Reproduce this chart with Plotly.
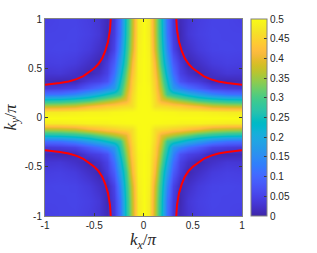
import numpy as np
import plotly.graph_objects as go

# grid coordinates (units of pi) for one quadrant
k_grid = [0, 0.06, 0.12, 0.18, 0.24, 0.30, 0.37, 0.45, 0.55, 0.70, 0.85, 1.0]

# estimated values f(a, b) for a >= b (lower triangle), a = k_grid[i]
f_lower = [
    [0.50],
    [0.50, 0.499],
    [0.50, 0.498, 0.465],
    [0.50, 0.497, 0.46, 0.40],
    [0.50, 0.495, 0.455, 0.38, 0.29],
    [0.50, 0.495, 0.445, 0.36, 0.265, 0.17],
    [0.50, 0.49, 0.44, 0.34, 0.24, 0.14, 0.07],
    [0.50, 0.49, 0.425, 0.32, 0.21, 0.11, 0.048, 0.023],
    [0.50, 0.49, 0.41, 0.29, 0.18, 0.085, 0.037, 0.006, 0.02],
    [0.50, 0.485, 0.38, 0.27, 0.14, 0.05, 0.01, 0.022, 0.038, 0.05],
    [0.50, 0.48, 0.37, 0.255, 0.115, 0.04, 0.008, 0.033, 0.045, 0.052, 0.05],
    [0.50, 0.48, 0.365, 0.25, 0.11, 0.035, 0.012, 0.03, 0.042, 0.05, 0.05, 0.045],
]

# red contour, upper-right quadrant
red_kx = [0.333, 0.34, 0.36, 0.39, 0.42, 0.46, 0.50, 0.55, 0.61, 0.68, 0.76, 0.85, 0.93, 1.0]
red_ky = [1.0, 0.89, 0.77, 0.67, 0.60, 0.54, 0.50, 0.46, 0.42, 0.39, 0.365, 0.35, 0.34, 0.333]

cbar_ticks = [0, 0.05, 0.1, 0.15, 0.2, 0.25, 0.3, 0.35, 0.4, 0.45, 0.5]
cbar_text = ["0", "0.05", "0.1", "0.15", "0.2", "0.25", "0.3", "0.35", "0.4", "0.45", "0.5"]
axis_ticks = [-1, -0.5, 0, 0.5, 1]
axis_text = ["-1", "-0.5", "0", "0.5", "1"]
x_label = "<i>k<sub>x</sub></i>/<i>π</i>"
y_label = "<i>k<sub>y</sub></i>/<i>π</i>"

parula = [
    [0.2422, 0.1504, 0.6603], [0.2504, 0.1650, 0.7076], [0.2578, 0.1818, 0.7511], [0.2647, 0.1978, 0.7952],
    [0.2706, 0.2147, 0.8364], [0.2751, 0.2342, 0.8710], [0.2783, 0.2559, 0.8991], [0.2803, 0.2782, 0.9221],
    [0.2813, 0.3006, 0.9414], [0.2810, 0.3228, 0.9579], [0.2795, 0.3447, 0.9717], [0.2760, 0.3667, 0.9829],
    [0.2699, 0.3892, 0.9906], [0.2602, 0.4123, 0.9952], [0.2440, 0.4358, 0.9988], [0.2206, 0.4603, 0.9973],
    [0.1963, 0.4847, 0.9892], [0.1834, 0.5074, 0.9798], [0.1786, 0.5289, 0.9682], [0.1764, 0.5499, 0.9520],
    [0.1687, 0.5703, 0.9359], [0.1540, 0.5902, 0.9218], [0.1460, 0.6091, 0.9079], [0.1380, 0.6276, 0.8973],
    [0.1248, 0.6459, 0.8883], [0.1113, 0.6635, 0.8763], [0.0952, 0.6798, 0.8598], [0.0689, 0.6948, 0.8394],
    [0.0297, 0.7082, 0.8163], [0.0036, 0.7203, 0.7917], [0.0067, 0.7312, 0.7660], [0.0433, 0.7411, 0.7394],
    [0.0964, 0.7500, 0.7120], [0.1408, 0.7584, 0.6842], [0.1717, 0.7670, 0.6554], [0.1938, 0.7758, 0.6251],
    [0.2161, 0.7843, 0.5923], [0.2470, 0.7918, 0.5567], [0.2906, 0.7973, 0.5188], [0.3406, 0.8008, 0.4789],
    [0.3909, 0.8029, 0.4354], [0.4456, 0.8024, 0.3909], [0.5044, 0.7993, 0.3480], [0.5616, 0.7942, 0.3045],
    [0.6174, 0.7876, 0.2612], [0.6720, 0.7793, 0.2227], [0.7242, 0.7698, 0.1910], [0.7738, 0.7598, 0.1646],
    [0.8203, 0.7498, 0.1535], [0.8634, 0.7406, 0.1596], [0.9035, 0.7330, 0.1774], [0.9393, 0.7288, 0.2100],
    [0.9728, 0.7298, 0.2394], [0.9956, 0.7434, 0.2371], [0.9970, 0.7659, 0.2199], [0.9952, 0.7893, 0.2028],
    [0.9892, 0.8136, 0.1885], [0.9786, 0.8386, 0.1766], [0.9676, 0.8639, 0.1643], [0.9610, 0.8890, 0.1537],
    [0.9597, 0.9135, 0.1423], [0.9628, 0.9373, 0.1265], [0.9691, 0.9606, 0.1064], [0.9769, 0.9839, 0.0805],
]
n = len(parula)
colorscale = [[i / (n - 1), "rgb(%d,%d,%d)" % tuple(int(round(c * 255)) for c in rgb)] for i, rgb in enumerate(parula)]

# build symmetric quadrant table, then mirror to full grid
m = len(k_grid)
Q = np.zeros((m, m))
for i in range(m):
    for j in range(i + 1):
        Q[i, j] = f_lower[i][j]
        Q[j, i] = f_lower[i][j]
axis_vals = [-v for v in k_grid[::-1]] + k_grid[1:]
idx = list(range(m - 1, -1, -1)) + list(range(1, m))
Z = Q[np.ix_(idx, idx)]

W, H = 317, 253
L, T = 45, 19
pw, ph = 197, 197
R, B = W - L - pw, H - T - ph

fig = go.Figure()
fig.add_trace(go.Heatmap(
    x=axis_vals, y=axis_vals, z=Z, zmin=0, zmax=0.5, zsmooth="best",
    colorscale=colorscale, hoverinfo="skip",
    colorbar=dict(
        x=(251 - L) / pw, xanchor="left", xpad=0, y=0, yanchor="bottom", ypad=0,
        len=1, lenmode="fraction", thickness=16, thicknessmode="pixels",
        outlinecolor="rgb(130,130,130)", outlinewidth=1,
        tickvals=cbar_ticks, ticktext=cbar_text, ticks="inside", ticklen=3,
        tickcolor="rgb(60,60,60)", tickfont=dict(family="Liberation Sans", size=10, color="#262626"),
    ),
))
for sx, sy in [(1, 1), (-1, 1), (-1, -1), (1, -1)]:
    fig.add_trace(go.Scatter(
        x=[sx * v for v in red_kx], y=[sy * v for v in red_ky], mode="lines",
        line=dict(color="rgb(255,0,0)", width=2.0), hoverinfo="skip", showlegend=False,
    ))

axis_common = dict(
    range=[-1, 1], tickvals=axis_ticks, ticktext=axis_text, ticks="inside", ticklen=3,
    tickcolor="rgb(60,60,60)", showline=True, linecolor="rgb(130,130,130)", linewidth=1,
    mirror="ticks", showgrid=False, zeroline=False, automargin=False,
    tickfont=dict(family="Liberation Sans", size=10, color="#262626"),
)
fig.update_layout(
    width=W, height=H, margin=dict(l=L, r=R, t=T, b=B, autoexpand=False),
    paper_bgcolor="white", plot_bgcolor="white", showlegend=False,
    xaxis=dict(**axis_common), yaxis=dict(**axis_common),
    annotations=[
        dict(text=x_label, xref="paper", yref="paper", x=0.5, y=-(241 - 216) / ph,
             xanchor="center", yanchor="middle", showarrow=False,
             font=dict(family="Liberation Serif", size=17, color="#262626")),
        dict(text=y_label, xref="paper", yref="paper", x=-(L - 11) / pw, y=0.5,
             xanchor="center", yanchor="middle", showarrow=False, textangle=-90,
             font=dict(family="Liberation Serif", size=17, color="#262626")),
    ],
)
fig.write_html("out.html", config={"displayModeBar": False},
               post_script="document.body.style.margin='0px';")
